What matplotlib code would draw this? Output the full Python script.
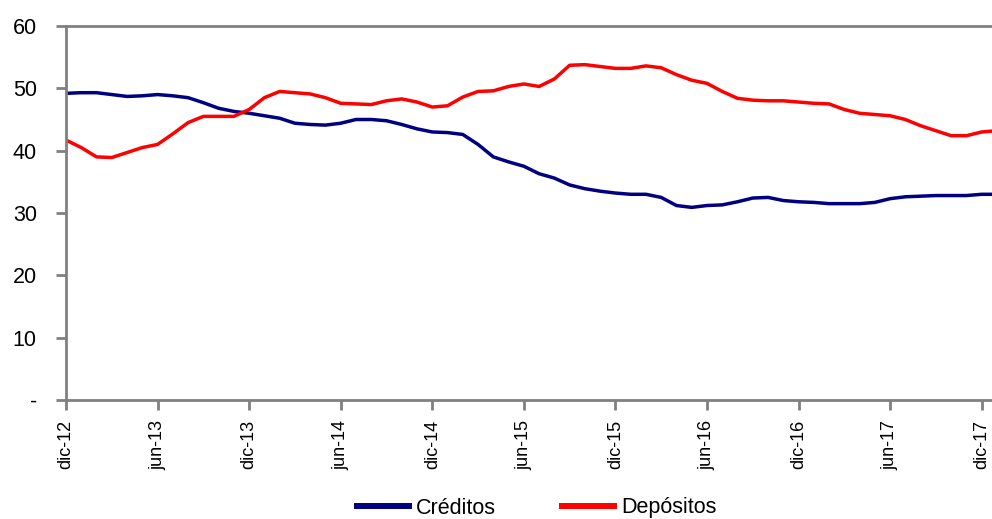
import matplotlib
matplotlib.use("Agg")
import matplotlib.pyplot as plt
from matplotlib.lines import Line2D
import numpy as np

plt.rcParams['font.family'] = ['Liberation Sans', 'DejaVu Sans']

# Monthly series, Dec-2012 onward (percent)
creditos = [49.2, 49.3, 49.3, 49.0, 48.7, 48.8, 49.0, 48.8, 48.5, 47.7,
            46.8, 46.3, 46.0, 45.6, 45.2, 44.4, 44.2, 44.1, 44.4, 45.0,
            45.0, 44.8, 44.2, 43.5, 43.0, 42.9, 42.6, 41.0, 39.0, 38.2,
            37.5, 36.3, 35.6, 34.5, 33.9, 33.5, 33.2, 33.0, 33.0, 32.5,
            31.2, 30.9, 31.2, 31.3, 31.8, 32.4, 32.5, 32.0, 31.8, 31.7,
            31.5, 31.5, 31.5, 31.7, 32.3, 32.6, 32.7, 32.8, 32.8, 32.8,
            33.0, 33.0]
depositos = [41.7, 40.5, 39.0, 38.9, 39.7, 40.5, 41.0, 42.7, 44.5, 45.5,
             45.5, 45.5, 46.6, 48.5, 49.5, 49.3, 49.1, 48.5, 47.6, 47.5,
             47.4, 48.0, 48.3, 47.8, 47.0, 47.2, 48.6, 49.5, 49.6, 50.3,
             50.7, 50.3, 51.5, 53.7, 53.8, 53.5, 53.2, 53.2, 53.6, 53.3,
             52.2, 51.3, 50.8, 49.5, 48.4, 48.1, 48.0, 48.0, 47.8, 47.6,
             47.5, 46.6, 46.0, 45.8, 45.6, 45.0, 44.0, 43.2, 42.4, 42.4,
             43.0, 43.2]
tick_labels = ['dic-12', 'jun-13', 'dic-13', 'jun-14', 'dic-14', 'jun-15',
               'dic-15', 'jun-16', 'dic-16', 'jun-17', 'dic-17']
y_ticks = [0, 10, 20, 30, 40, 50, 60]
y_labels = ['-', '10', '20', '30', '40', '50', '60']

NAVY = '#000080'
RED = '#FF0000'
GREY = '#808080'

W, H = 992, 519
fig = plt.figure(figsize=(W / 100, H / 100), dpi=100)
ax = fig.add_axes([66 / W, 1 - 400 / H, (1000 - 66) / W, (400 - 26) / H])

months = np.arange(len(creditos))
ax.plot(months, creditos, color=NAVY, lw=2.5, solid_capstyle='butt')
ax.plot(months, depositos, color=RED, lw=2.5, solid_capstyle='butt')

ax.set_xlim(0, 61.2)
ax.set_ylim(0, 60)
ax.set_yticks(y_ticks)
ax.set_yticklabels(y_labels, fontsize=15.5)
ax.set_xticks(np.arange(0, 61, 6))
ax.set_xticklabels(tick_labels, rotation=90, fontsize=13)

for side in ['left', 'bottom', 'top']:
    ax.spines[side].set_color(GREY)
    ax.spines[side].set_linewidth(2)
ax.spines['right'].set_visible(False)
ax.tick_params(axis='both', direction='out', length=7.5, width=2,
               color=GREY, labelcolor='black')
ax.tick_params(axis='y', pad=13.5)
ax.tick_params(axis='x', pad=7)

handles = [Line2D([], [], color=NAVY, lw=4.3, solid_capstyle='butt'),
           Line2D([], [], color=RED, lw=4.3, solid_capstyle='butt')]
fig.legend(handles, ['Créditos', 'Depósitos'], loc='center',
           bbox_to_anchor=(535 / W, 1 - 508 / H), ncol=2, frameon=False,
           fontsize=15.5, handlelength=2.7, handletextpad=0.2,
           columnspacing=2.9, borderpad=0, borderaxespad=0)

fig.savefig('out.png', dpi=100)
